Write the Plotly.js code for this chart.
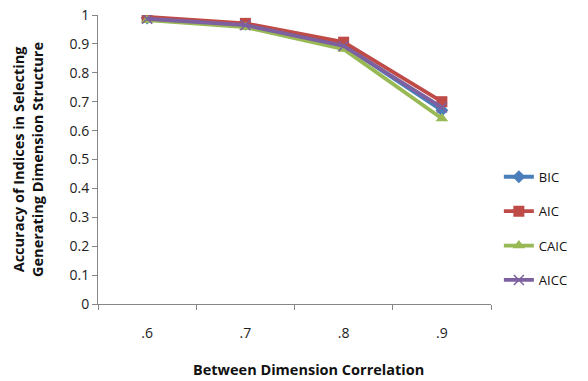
<!DOCTYPE html>
<html><head><meta charset="utf-8">
<script src="https://cdn.plot.ly/plotly-3.0.1.min.js"></script>
<style>body{margin:0;background:#fff}#c{width:588px;height:381px}</style>
</head><body><div id="c"></div>
<script>
const categories = ['.6', '.7', '.8', '.9'];
const bic  = [0.99, 0.968, 0.895, 0.67];
const aic  = [0.993, 0.971, 0.906, 0.70];
const caic = [0.982, 0.958, 0.882, 0.642];
const aicc = [0.987, 0.965, 0.893, 0.68];
const seriesNames = ['BIC', 'AIC', 'CAIC', 'AICC'];
const yTicks = [0,0.1,0.2,0.3,0.4,0.5,0.6,0.7,0.8,0.9,1];
const yTickText = ['0','0.1','0.2','0.3','0.4','0.5','0.6','0.7','0.8','0.9','1'];

const styles = [
  {color:'#4a7ebb', symbol:'diamond', size:10},
  {color:'#be4b48', symbol:'square', size:11},
  {color:'#98b954', symbol:'triangle-up', size:11},
  {color:'#7d60a0', symbol:'x-thin-open', size:10}
];
const data = [bic, aic, caic, aicc].map((vals, i) => ({
  type:'scatter', mode:'lines+markers', x:categories, y:vals, name:seriesNames[i],
  legendgroup:'g'+i,
  line:{color:styles[i].color, width:3.8},
  marker:{color:styles[i].color, symbol:styles[i].symbol, size:styles[i].size,
          line:{color:styles[i].color, width: styles[i].symbol==='x-thin-open'?1.5:0}}
}));
const font = "Open Sans, Liberation Sans, sans-serif";
const layout = {
  width:588, height:381,
  margin:{l:98, r:97, t:15, b:77},
  paper_bgcolor:'#fff', plot_bgcolor:'#fff',
  font:{family:font, size:13, color:'#222'},
  showlegend:true,
  legend:{x:1.02, y:0.492, xanchor:'left', yanchor:'top', tracegroupgap:14.5,
          font:{size:13, color:'#111'}, traceorder:'grouped', itemwidth:30},
  xaxis:{type:'category', range:[-0.5,3.5], showline:true, linecolor:'#868686', linewidth:1,
         ticks:'outside', tickson:'boundaries', ticklen:5, tickcolor:'#868686',
         showgrid:false, zeroline:false, tickfont:{size:14}, ticklabelstandoff:16},
  yaxis:{range:[0,1], tickvals:yTicks, ticktext:yTickText, showline:true, linecolor:'#868686', linewidth:1,
         ticks:'outside', ticklen:5, tickcolor:'#868686', showgrid:false, zeroline:false,
         tickfont:{size:14},
         title:{text:'<b>Accuracy of Indices in Selecting<br>Generating Dimension Structure</b>', font:{size:14.5, color:'#111'}, standoff:22}},
  annotations:[{xref:'paper', yref:'paper', x:(308-98)/393, y:-(369-304)/289, xanchor:'center', yanchor:'middle',
    showarrow:false, text:'<b>Between Dimension Correlation</b>', font:{size:14.5, color:'#111'}}]
};
Plotly.newPlot('c', data, layout, {displayModeBar:false});
</script></body></html>
